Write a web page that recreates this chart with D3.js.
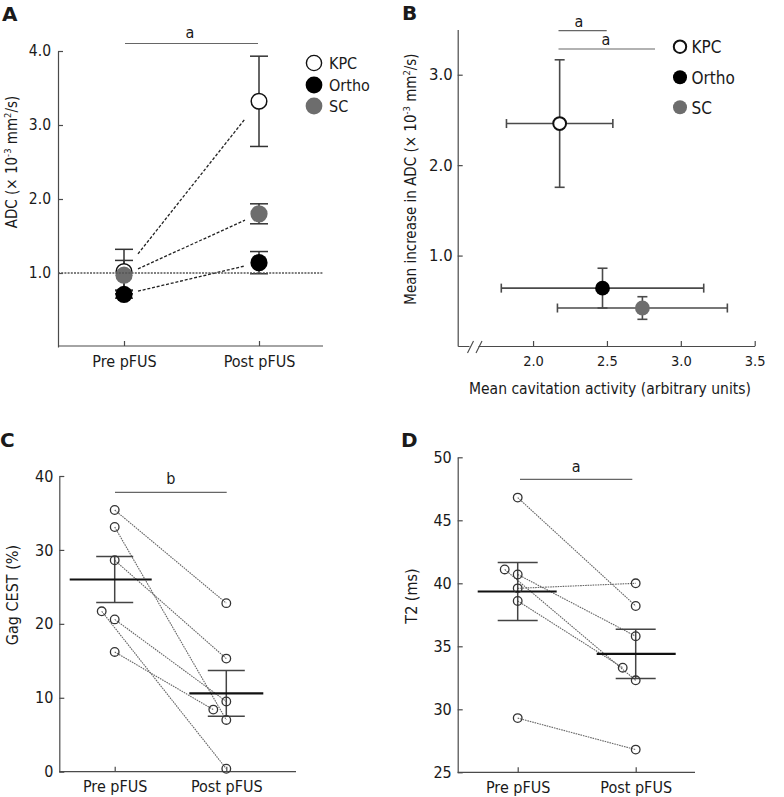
<!DOCTYPE html>
<html><head><meta charset="utf-8">
<script src="https://cdn.jsdelivr.net/npm/d3@7/dist/d3.min.js"></script>
<style>
body{margin:0;background:#fff;}
svg text{font-family:'DejaVu Sans Condensed','DejaVu Sans',sans-serif;font-stretch:condensed;fill:#1a1a1a;}
.plab{font-family:'DejaVu Sans',sans-serif!important;font-stretch:normal!important;font-weight:bold;}
</style></head>
<body>
<script>
// ---------- DATA ----------
const categories = ["Pre pFUS", "Post pFUS"];
const groups = ["KPC", "Ortho", "SC"];
// Panel A: ADC (x10^-3 mm2/s), order KPC, Ortho, SC
const adcPre = [1.02, 0.71, 0.97];
const adcPreErr = [0.30, 0.05, 0.20];
const adcPost = [3.32, 1.14, 1.80];
const adcPostErr = [0.61, 0.15, 0.135];
const adcTicks = [1, 2, 3, 4];
// Panel B
const cavMean = [2.18, 2.47, 2.74];
const cavErr = [0.36, 0.685, 0.575];
const adcIncMean = [2.46, 0.64, 0.42];
const adcIncErr = [0.705, 0.22, 0.125];
const cavTicks = [2.0, 2.5, 3.0, 3.5];
const adcIncTicks = [1, 2, 3];
// Panel C: Gag CEST (%), paired per subject
const gagPre = [35.4, 33.1, 28.6, 21.7, 20.6, 16.2];
const gagPost = [22.8, 7.0, 15.3, 0.4, 9.5, 8.4];
const gagMean = [26.0, 10.6];
const gagSem = [3.1, 3.1];
const gagTicks = [0, 10, 20, 30, 40];
// Panel D: T2 (ms), paired per subject
const t2Pre = [46.8, 41.1, 40.7, 39.6, 38.6, 29.3];
const t2Post = [38.2, 32.3, 35.8, 40.0, 33.3, 26.8];
const t2Mean = [39.35, 34.4];
const t2Sem = [2.3, 1.95];
const t2Ticks = [25, 30, 35, 40, 45, 50];

// ---------- STYLE ----------
const AX = "#4a4a4a";
const fills = {KPC: "#fff", Ortho: "#000", SC: "#6d6d6d"};

const svg = d3.select("body").append("svg").attr("width", 784).attr("height", 797);

function styleAxis(g, fs) {
  g.selectAll("path,line").attr("stroke", AX).attr("stroke-width", 1.2);
  g.selectAll("text").attr("font-size", fs).attr("fill", "#1a1a1a");
  g.attr("font-family", null);
}
function panelLabel(t, x, y) {
  svg.append("text").attr("class", "plab").attr("x", x).attr("y", y)
    .attr("font-size", 20).text(t);
}
function yLabel(parts, x, y, fs) {
  const t = svg.append("text").attr("transform", `translate(${x},${y}) rotate(-90)`)
    .attr("text-anchor", "middle").attr("font-size", fs);
  parts.forEach(p => {
    const s = t.append("tspan").text(p.t);
    if (p.sup) s.attr("font-size", fs * 0.62).attr("dy", -fs * 0.4);
    if (p.down) s.attr("dy", fs * 0.4);
  });
}
const unitParts = [{t: "("}, {t: "× 10"}, {t: "-3", sup: true}, {t: " mm", down: true}, {t: "2", sup: true}, {t: "/s)", down: true}];

// ---------- PANEL A ----------
{
  const y = d3.scaleLinear().domain([0, 4]).range([347, 51]);
  const x = d3.scalePoint().domain(categories).range([124, 259]);
  const L = 58, R = 323, B = 346;
  svg.append("g").attr("transform", `translate(${L},0)`)
    .call(d3.axisLeft(y).tickValues(adcTicks).tickSize(-5).tickSizeOuter(0).tickPadding(7).tickFormat(d3.format(".1f")))
    .call(g => styleAxis(g, 15.5));
  svg.append("g").attr("transform", `translate(0,${B})`)
    .call(d3.axisBottom(x).tickSize(-5).tickPadding(10))
    .call(g => g.select(".domain").remove())
    .call(g => styleAxis(g, 16));
  svg.append("line").attr("x1", L).attr("x2", R).attr("y1", B).attr("y2", B).attr("stroke", AX).attr("stroke-width", 1.2);

  // dashed connectors
  groups.forEach((gName, i) => {
    const x0 = x(categories[0]), x1 = x(categories[1]);
    const y0 = y(adcPre[i]), y1 = y(adcPost[i]);
    const f0 = 14 / (x1 - x0), f1 = 1 - 14 / (x1 - x0);
    svg.append("line")
      .attr("x1", x0 + (x1 - x0) * f0).attr("y1", y0 + (y1 - y0) * f0)
      .attr("x2", x0 + (x1 - x0) * f1).attr("y2", y0 + (y1 - y0) * f1)
      .attr("stroke", "#222").attr("stroke-width", 1.3).attr("stroke-dasharray", "3,1.8");
  });
  // error bars
  const eb = svg.append("g").attr("stroke", "#333").attr("stroke-width", 1.5).attr("fill", "none");
  groups.forEach((gName, i) => {
    [[adcPre, adcPreErr, 0], [adcPost, adcPostErr, 1]].forEach(([m, e, c]) => {
      const cx = x(categories[c]);
      eb.append("line").attr("x1", cx).attr("x2", cx).attr("y1", y(m[i] - e[i])).attr("y2", y(m[i] + e[i]));
      [m[i] - e[i], m[i] + e[i]].forEach(v => eb.append("line").attr("x1", cx - 9).attr("x2", cx + 9).attr("y1", y(v)).attr("y2", y(v)));
    });
  });
  // markers: KPC, Ortho, SC order
  [0, 1, 2].forEach(i => {
    [[adcPre, 0], [adcPost, 1]].forEach(([m, c]) => {
      svg.append("circle").attr("cx", x(categories[c])).attr("cy", y(m[i]))
        .attr("r", i === 0 ? 7.8 : 8.6)
        .attr("fill", fills[groups[i]]).attr("stroke", i === 0 ? "#111" : "none").attr("stroke-width", 1.5);
    });
  });
  // reference line at 1.0
  svg.append("line").attr("x1", L).attr("x2", R).attr("y1", y(1)).attr("y2", y(1))
    .attr("stroke", "#555").attr("stroke-width", 1.5).attr("stroke-dasharray", "2,1.2");
  // significance
  svg.append("line").attr("x1", 125).attr("x2", 258).attr("y1", 43.5).attr("y2", 43.5).attr("stroke", "#666").attr("stroke-width", 1.2);
  svg.append("text").attr("x", 190).attr("y", 38).attr("text-anchor", "middle").attr("font-size", 16).text("a");
  // legend
  groups.forEach((gName, i) => {
    const ly = [63, 85, 106][i];
    svg.append("circle").attr("cx", 314).attr("cy", ly).attr("r", i === 0 ? 7.6 : 8.4)
      .attr("fill", fills[gName]).attr("stroke", i === 0 ? "#111" : "none").attr("stroke-width", 1.4);
    svg.append("text").attr("x", 329).attr("y", ly + 6).attr("font-size", 16).text(gName);
  });
  yLabel([{t: "ADC "}, ...unitParts], 17, 162, 15);
  panelLabel("A", 2, 21);
}

// ---------- PANEL B ----------
{
  const y = d3.scaleLinear().domain([0, 3.5]).range([346, 29.5]);
  const x = d3.scaleLinear().domain([1.49, 3.5]).range([457.7, 754.7]);
  const L = 457.7, B = 346;
  svg.append("g").attr("transform", `translate(${L},0)`)
    .call(d3.axisLeft(y).tickValues(adcIncTicks).tickSize(-5).tickSizeOuter(0).tickPadding(5).tickFormat(d3.format(".1f")))
    .call(g => styleAxis(g, 16.5));
  svg.append("g").attr("transform", `translate(0,${B})`)
    .call(d3.axisBottom(x).tickValues(cavTicks).tickSize(-5).tickSizeOuter(0).tickPadding(10).tickFormat(d3.format(".1f")))
    .call(g => styleAxis(g, 14.5));
  // axis break
  svg.append("rect").attr("x", 469.5).attr("y", B - 3).attr("width", 9).attr("height", 6).attr("fill", "#fff");
  [467.5, 476].forEach(sx => svg.append("line").attr("x1", sx).attr("y1", B + 7).attr("x2", sx + 6).attr("y2", B - 5)
    .attr("stroke", AX).attr("stroke-width", 1.1));

  const eb = svg.append("g").attr("stroke", "#4a4a4a").attr("stroke-width", 1.6);
  groups.forEach((gName, i) => {
    const cx = x(cavMean[i]), cy = y(adcIncMean[i]);
    const xl = x(cavMean[i] - cavErr[i]), xr = x(cavMean[i] + cavErr[i]);
    const yt = y(adcIncMean[i] + adcIncErr[i]), yb = y(adcIncMean[i] - adcIncErr[i]);
    eb.append("line").attr("x1", xl).attr("x2", xr).attr("y1", cy).attr("y2", cy);
    eb.append("line").attr("x1", cx).attr("x2", cx).attr("y1", yt).attr("y2", yb);
    [xl, xr].forEach(v => eb.append("line").attr("x1", v).attr("x2", v).attr("y1", cy - 4.5).attr("y2", cy + 4.5));
    [yt, yb].forEach(v => eb.append("line").attr("x1", cx - 5).attr("x2", cx + 5).attr("y1", v).attr("y2", v));
  });
  groups.forEach((gName, i) => {
    svg.append("circle").attr("cx", x(cavMean[i])).attr("cy", y(adcIncMean[i]))
      .attr("r", i === 0 ? 6.4 : 7.4).attr("fill", fills[gName])
      .attr("stroke", i === 0 ? "#111" : "none").attr("stroke-width", 2);
  });
  // significance
  [[558.5, 606.7, 30.7, 579, 27], [558.5, 655, 49, 606, 45]].forEach(([a, b, ly, tx, ty]) => {
    svg.append("line").attr("x1", a).attr("x2", b).attr("y1", ly).attr("y2", ly).attr("stroke", "#666").attr("stroke-width", 1.2);
    svg.append("text").attr("x", tx).attr("y", ty).attr("text-anchor", "middle").attr("font-size", 16).text("a");
  });
  // legend
  groups.forEach((gName, i) => {
    const ly = [46.7, 77.3, 107.3][i];
    svg.append("circle").attr("cx", 680).attr("cy", ly).attr("r", i === 0 ? 6.2 : 7)
      .attr("fill", fills[gName]).attr("stroke", i === 0 ? "#111" : "none").attr("stroke-width", 2);
    svg.append("text").attr("x", 691.5).attr("y", ly + 6.5).attr("font-size", 17).text(gName);
  });
  yLabel([{t: "Mean increase in ADC "}, ...unitParts], 416, 179, 15);
  svg.append("text").attr("x", 610).attr("y", 394).attr("text-anchor", "middle").attr("font-size", 15.5)
    .text("Mean cavitation activity (arbitrary units)");
  panelLabel("B", 402, 20);
}

// ---------- paired panels C & D ----------
function pairedPanel(o) {
  const y = d3.scaleLinear().domain(o.domain).range([o.B, o.T]);
  const x = d3.scalePoint().domain(categories).range(o.cx);
  svg.append("g").attr("transform", `translate(${o.L},0)`)
    .call(d3.axisLeft(y).tickValues(o.ticks).tickSize(-5).tickSizeOuter(0).tickPadding(6))
    .call(g => styleAxis(g, 16));
  svg.append("g").attr("transform", `translate(0,${o.B})`)
    .call(d3.axisBottom(x).tickSize(-5).tickPadding(9))
    .call(g => g.select(".domain").remove())
    .call(g => styleAxis(g, 16));
  svg.append("line").attr("x1", o.L).attr("x2", o.R).attr("y1", o.B).attr("y2", o.B).attr("stroke", AX).attr("stroke-width", 1.2);

  const px0 = i => x(categories[0]) + (o.nudgePre.includes(i) ? -13 : 0);
  const px1 = i => x(categories[1]) + (o.nudgePost.includes(i) ? -13 : 0);
  // connectors
  o.pre.forEach((v, i) => {
    svg.append("line").attr("x1", px0(i)).attr("y1", y(v)).attr("x2", px1(i)).attr("y2", y(o.post[i]))
      .attr("stroke", "#666").attr("stroke-width", 1.1).attr("stroke-dasharray", "1.6,0.9");
  });
  // mean & SEM
  const g = svg.append("g").attr("stroke", "#333");
  o.mean.forEach((m, c) => {
    const cx = x(categories[c]);
    g.append("line").attr("x1", cx).attr("x2", cx).attr("y1", y(m - o.sem[c])).attr("y2", y(m + o.sem[c])).attr("stroke-width", 1.5).attr("stroke", "#444");
    [m - o.sem[c], m + o.sem[c]].forEach(v => g.append("line").attr("x1", cx - o.capW).attr("x2", cx + o.capW)
      .attr("y1", y(v)).attr("y2", y(v)).attr("stroke-width", 1.5).attr("stroke", "#444"));
    g.append("line").attr("x1", cx - o.meanW[c][0]).attr("x2", cx + o.meanW[c][1]).attr("y1", y(m)).attr("y2", y(m))
      .attr("stroke-width", 2.2).attr("stroke", "#111");
  });
  // points
  o.pre.forEach((v, i) => svg.append("circle").attr("cx", px0(i)).attr("cy", y(v)).attr("r", 4.3)
    .attr("fill", "none").attr("stroke", "#333").attr("stroke-width", 1.3));
  o.post.forEach((v, i) => svg.append("circle").attr("cx", px1(i)).attr("cy", y(v)).attr("r", 4.3)
    .attr("fill", "none").attr("stroke", "#333").attr("stroke-width", 1.3));
  // significance
  svg.append("line").attr("x1", o.sig[0]).attr("x2", o.sig[1]).attr("y1", o.sig[2]).attr("y2", o.sig[2]).attr("stroke", "#666").attr("stroke-width", 1.2);
  svg.append("text").attr("x", (o.sig[0] + o.sig[1]) / 2).attr("y", o.sig[3]).attr("text-anchor", "middle").attr("font-size", 16).text(o.sigText);
  svg.append("text").attr("transform", `translate(${o.ylab[1]},${o.ylab[2]}) rotate(-90)`)
    .attr("text-anchor", "middle").attr("font-size", 16).text(o.ylab[0]);
}

pairedPanel({domain: [0, 40], T: 476, B: 771.7, L: 59.3, R: 296, cx: [114.7, 226.3], ticks: gagTicks,
  pre: gagPre, post: gagPost, mean: gagMean, sem: gagSem, nudgePre: [3], nudgePost: [5],
  capW: 18.5, meanW: [[45, 37], [37, 37]], sig: [115, 226.7, 492.3, 483.5], sigText: "b",
  ylab: ["Gag CEST (%)", 18, 595]});
panelLabel("C", 0, 447);

pairedPanel({domain: [25, 50], T: 457.3, B: 772.3, L: 457.7, R: 695, cx: [517.7, 635.7], ticks: t2Ticks,
  pre: t2Pre, post: t2Post, mean: t2Mean, sem: t2Sem, nudgePre: [1], nudgePost: [4],
  capW: 20, meanW: [[40, 39], [39, 40]], sig: [520, 632.3, 479.3, 471.5], sigText: "a",
  ylab: ["T2 (ms)", 417, 596]});
panelLabel("D", 401, 447);
</script>
</body></html>
